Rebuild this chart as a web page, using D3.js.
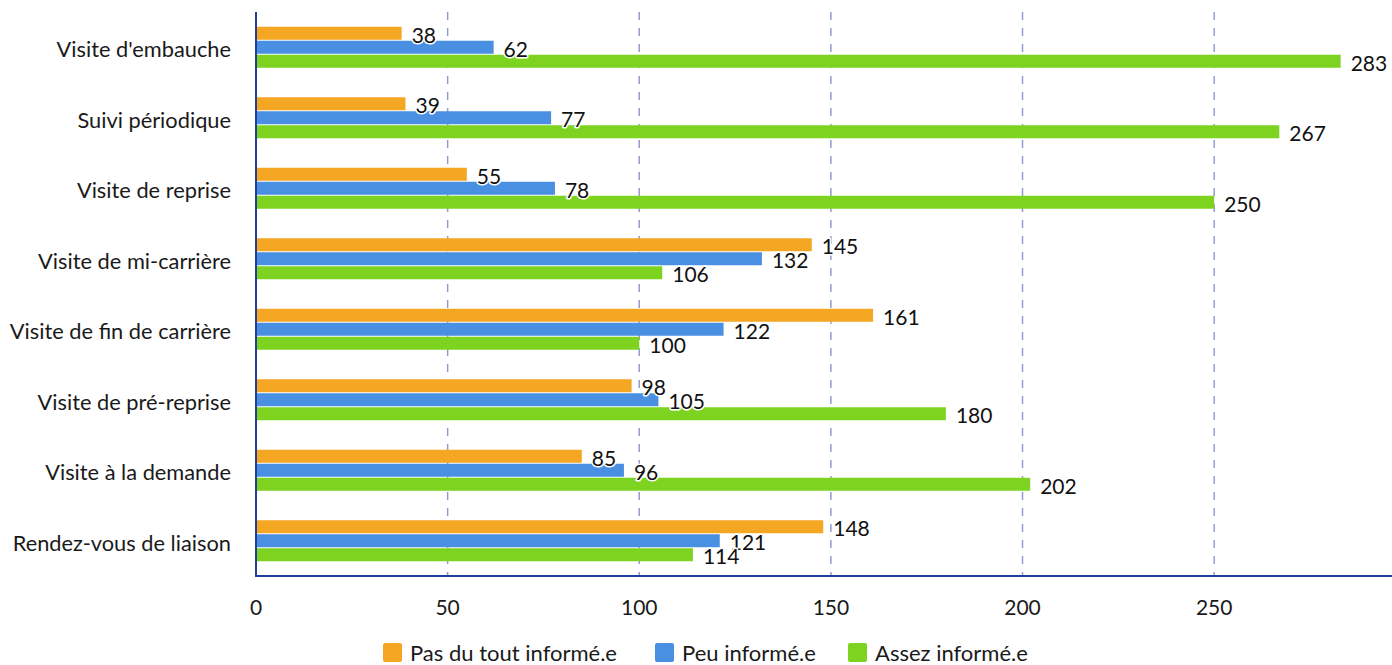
<!DOCTYPE html>
<html>
<head>
<meta charset="utf-8">
<script src="https://cdn.jsdelivr.net/npm/d3@7"></script>
<style>
  html, body { margin: 0; padding: 0; background: #fff; }
  svg { display: block; font-family: Lato, "Noto Sans", sans-serif; }
</style>
</head>
<body>
<svg id="chart" width="1392" height="665"></svg>
<script>
// Visit types (rows, top to bottom)
const categories = [
  "Visite d'embauche",
  "Suivi périodique",
  "Visite de reprise",
  "Visite de mi-carrière",
  "Visite de fin de carrière",
  "Visite de pré-reprise",
  "Visite à la demande",
  "Rendez-vous de liaison"
];

// Series names shown in the legend
const seriesNames = ["Pas du tout informé.e", "Peu informé.e", "Assez informé.e"];

// Number of responses per visit type, one array per series
const pasDuTout = [38, 39, 55, 145, 161, 98, 85, 148];
const peu       = [62, 77, 78, 132, 122, 105, 96, 121];
const assez     = [283, 267, 250, 106, 100, 180, 202, 114];

// X-axis ticks
const xTicks = [0, 50, 100, 150, 200, 250];

const seriesValues = [pasDuTout, peu, assez];
const colors = ["#F5A623", "#4A90E2", "#7ED321"];

const svg = d3.select("#chart");
const plotLeft = 256, plotRight = 1392, plotTop = 12, plotBottom = 576;

const x = d3.scaleLinear().domain([0, 296.4]).range([plotLeft, plotRight]);
const y = d3.scaleBand().domain(categories).range([plotTop, plotBottom]);
const barH = 13, barGap = 1;
const groupH = barH * 3 + barGap * 2;

// dashed vertical grid lines
svg.append("g")
  .selectAll("line")
  .data(xTicks.filter(d => d > 0))
  .join("line")
  .attr("x1", d => x(d)).attr("x2", d => x(d))
  .attr("y1", plotTop).attr("y2", plotBottom)
  .attr("stroke", "#8C9FCB")
  .attr("stroke-width", 1.5)
  .attr("stroke-dasharray", "8,8");

// bars
const rows = categories.map((c, i) => ({ c, vals: seriesValues.map(s => s[i]) }));
const groups = svg.append("g").selectAll("g")
  .data(rows)
  .join("g")
  .attr("transform", d => `translate(0,${y(d.c) + (y.bandwidth() - groupH) / 2})`);

groups.selectAll("rect")
  .data(d => d.vals)
  .join("rect")
  .attr("x", x(0))
  .attr("y", (d, j) => j * (barH + barGap))
  .attr("width", d => x(d) - x(0))
  .attr("height", barH)
  .attr("fill", (d, j) => colors[j]);

// value labels with a white halo
groups.selectAll("text")
  .data(d => d.vals)
  .join("text")
  .attr("x", d => x(d) + 10)
  .attr("y", (d, j) => j * (barH + barGap) + barH / 2 + 9.5)
  .attr("font-size", 21)
  .attr("fill", "#111")
  .attr("stroke", "#fff")
  .attr("stroke-width", 3)
  .attr("stroke-linejoin", "round")
  .attr("paint-order", "stroke")
  .text(d => d);

// category labels
svg.append("g").selectAll("text")
  .data(categories)
  .join("text")
  .attr("x", plotLeft - 25)
  .attr("y", d => y(d) + y.bandwidth() / 2 + 10)
  .attr("text-anchor", "end")
  .attr("font-size", 21.8)
  .attr("fill", "#1a1a1a")
  .text(d => d);

// axis lines
svg.append("line")
  .attr("x1", plotLeft).attr("x2", plotLeft)
  .attr("y1", plotTop).attr("y2", plotBottom + 1)
  .attr("stroke", "#1F3F98").attr("stroke-width", 2);
svg.append("line")
  .attr("x1", plotLeft - 1).attr("x2", plotRight)
  .attr("y1", plotBottom).attr("y2", plotBottom)
  .attr("stroke", "#1F3F98").attr("stroke-width", 2);

// x tick labels
svg.append("g").selectAll("text")
  .data(xTicks)
  .join("text")
  .attr("x", d => x(d))
  .attr("y", 614.5)
  .attr("text-anchor", "middle")
  .attr("font-size", 21)
  .attr("fill", "#1a1a1a")
  .text(d => d);

// legend: swatch + label per series
const legendX = [383, 655, 848];
const legend = svg.append("g").selectAll("g")
  .data(seriesNames)
  .join("g")
  .attr("transform", (d, i) => `translate(${legendX[i]},643)`);
legend.append("rect")
  .attr("width", 19).attr("height", 19).attr("rx", 2)
  .attr("fill", (d, i) => colors[i]);
legend.append("text")
  .attr("x", 27).attr("y", 17.5)
  .attr("font-size", 22)
  .attr("fill", "#1a1a1a")
  .text(d => d);
</script>
</body>
</html>
